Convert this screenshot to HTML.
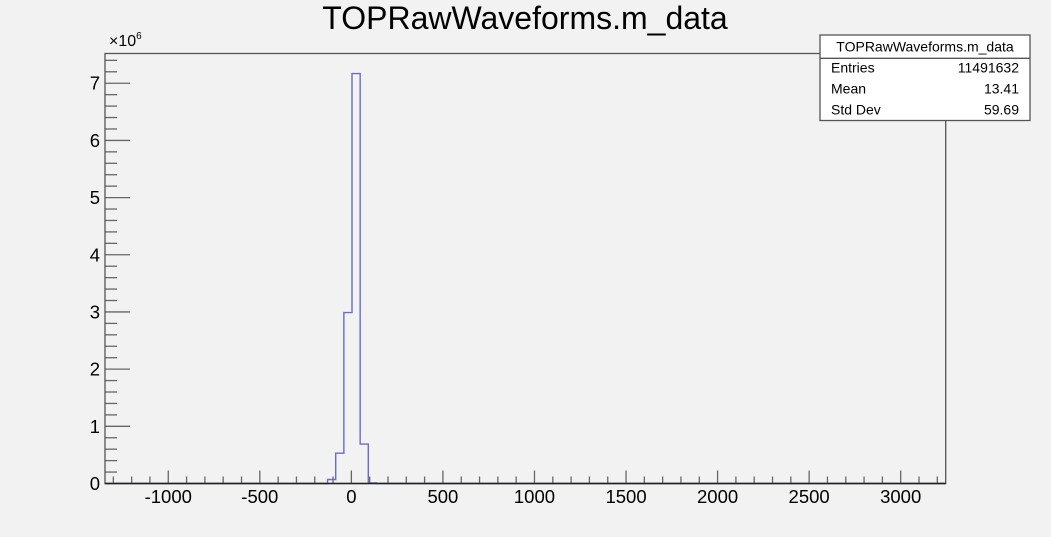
<!DOCTYPE html>
<html><head><meta charset="utf-8"><style>
html,body{margin:0;padding:0;background:#f2f2f2;}
svg{display:block;font-family:"Liberation Sans",Arial,sans-serif;}
</style></head><body>
<svg id="c" width="1051" height="537" viewBox="0 0 1051 537">
<rect x="0" y="0" width="1051" height="537" fill="#f2f2f2"/>
<text x="525" y="29" font-size="32" text-anchor="middle" fill="#000">TOPRawWaveforms.m_data</text>
<g id="axes"></g>
<g id="hist"></g>
<rect x="105" y="53.5" width="840.7" height="430" fill="none" stroke="#555" stroke-width="1.3"/>
<line x1="105" y1="483.5" x2="945.7" y2="483.5" stroke="#222" stroke-width="1.5"/>
<g>
<rect x="820" y="35" width="210" height="85.5" fill="#fff" stroke="#555" stroke-width="1.3"/>
<line x1="820" y1="58.3" x2="1030" y2="58.3" stroke="#555" stroke-width="1.3"/>
<text x="925" y="51.5" font-size="14" text-anchor="middle">TOPRawWaveforms.m_data</text>
<text x="831" y="72.5" font-size="14">Entries</text>
<text x="1019" y="72.5" font-size="14" text-anchor="end">11491632</text>
<text x="831" y="93.5" font-size="14">Mean</text>
<text x="1019" y="93.5" font-size="14" text-anchor="end">13.41</text>
<text x="831" y="114.5" font-size="14">Std Dev</text>
<text x="1019" y="114.5" font-size="14" text-anchor="end">59.69</text>
</g>
<text x="109" y="46" font-size="16">×10<tspan dy="-7" font-size="10">6</tspan></text>
</svg>
<script>
const binEdges = [-130, -85.5, -41, 3.5, 48, 92.5, 137];
const binValues = [0.07, 0.53, 2.99, 7.17, 0.69, 0.01];
const xTicks = [-1000, -500, 0, 500, 1000, 1500, 2000, 2500, 3000];
const yTicks = [0, 1, 2, 3, 4, 5, 6, 7];
const xMin = -1345.5, xMax = 3245.8, yMax = 7.52;
const L = 105, R = 945.7, T = 53.5, B = 483.5;
const xs = v => L + (v - xMin) / (xMax - xMin) * (R - L);
const ys = v => B - v / yMax * (B - T);
const NS = "http://www.w3.org/2000/svg";
const axes = document.getElementById('axes');
function mk(tag, attrs, parent) { const e = document.createElementNS(NS, tag); for (const k in attrs) e.setAttribute(k, attrs[k]); parent.appendChild(e); return e; }
for (let v = -1300; v <= 3200; v += 100) {
  const major = v % 500 === 0;
  const t = mk('line', {x1: xs(v), x2: xs(v), y1: B, y2: B - (major ? 13 : 7), stroke: '#666', 'stroke-width': 1.3}, axes);
  
  
}
xTicks.forEach(v => {
  const t = mk('text', {x: xs(v), y: 503, 'font-size': 18.5, 'text-anchor': 'middle'}, axes);
  t.textContent = v;
  
  
});
for (let i = 0; i <= 37; i++) {
  const v = i * 0.2;
  const major = i % 5 === 0;
  const t = mk('line', {x1: L, x2: L + (major ? 25 : 12), y1: ys(v), y2: ys(v), stroke: '#666', 'stroke-width': 1.3}, axes);
  
  
}
yTicks.forEach(v => {
  const t = mk('text', {x: 100, y: ys(v) + 6.5, 'font-size': 18.5, 'text-anchor': 'end'}, axes);
  t.textContent = v;
  
  
});
let d = 'M' + L + ',' + B + ' L' + xs(binEdges[0]) + ',' + B;
binValues.forEach((v, i) => {
  d += ' L' + xs(binEdges[i]) + ',' + ys(v) + ' L' + xs(binEdges[i + 1]) + ',' + ys(v);
});
d += ' L' + xs(binEdges[binEdges.length - 1]) + ',' + B + ' L' + R + ',' + B;
const p = mk('path', {d: d, fill: 'none', stroke: '#6b6bc8', 'stroke-width': 1.4}, document.getElementById('hist'));


</script>
</body></html>
